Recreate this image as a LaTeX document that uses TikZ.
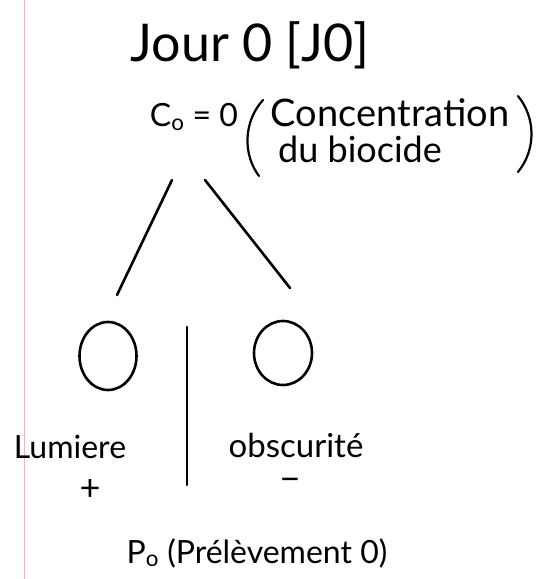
\documentclass[tikz,border=0pt]{standalone}
\usepackage{fontspec}
\setmainfont{Lato}
\usetikzlibrary{shapes.geometric}
\begin{document}
\begin{tikzpicture}[x=1pt,y=-1pt,
  ink/.style={draw=black,line width=2.6pt,line cap=round},
  pen/.style={draw=black,line width=2.2pt,line cap=round},
  txt/.style={inner sep=0pt,text=black},
  ring/.style={ellipse,draw=black,line width=2.6pt,inner sep=0pt}]
\fill[white] (0,0) rectangle (550,579);
\useasboundingbox (0,0) rectangle (550,579);
\draw[red!30,line width=1pt] (24,0) -- (24,579);
\node[txt,font=\fontsize{52}{56}\selectfont] (title) at (250,45) {Jour 0 [J0]};
\node[txt,font=\fontsize{32}{34}\selectfont] (c0) at (194,117) {C$_{\mathrm{o}}$ = 0};
\node[txt,font=\fontsize{38}{40}\selectfont] (conc) at (390,113) {Concentration};
\node[txt,font=\fontsize{36}{38}\selectfont,anchor=west] (bio) at (278,149) {du biocide};
\coordinate (lpa) at (263,100);
\coordinate (lpb) at (259,176);
\coordinate (rpa) at (518,96);
\coordinate (rpb) at (518,172);
\draw[pen] (lpa) .. controls (243,122) and (243,155) .. (lpb);
\draw[pen] (rpa) .. controls (536,118) and (536,150) .. (rpb);
\coordinate (la) at (172,180);
\coordinate (lb) at (117,295);
\coordinate (ra) at (205,180);
\coordinate (rb) at (290,288);
\draw[ink] (la) -- (lb);
\draw[ink] (ra) -- (rb);
\node[ring,minimum width=57pt,minimum height=68pt] (cl) at (108,356) {};
\node[ring,minimum width=58pt,minimum height=64pt] (cr) at (283,353) {};
\coordinate (va) at (187,327);
\coordinate (vb) at (187,485);
\draw[ink] (va) -- (vb);
\node[txt,font=\fontsize{32}{34}\selectfont] (lum) at (70,447) {Lumiere};
\node[txt,font=\fontsize{36}{38}\selectfont] (plus) at (90,490) {+};
\node[txt,font=\fontsize{33}{35}\selectfont] (obs) at (296,445) {obscurité};
\node[txt,font=\fontsize{36}{38}\selectfont] (minus) at (290,485) {−};
\node[txt,font=\fontsize{32}{34}\selectfont] (prel) at (257,553) {P$_{\mathrm{o}}$ (Prélèvement 0)};
\end{tikzpicture}
\end{document}
